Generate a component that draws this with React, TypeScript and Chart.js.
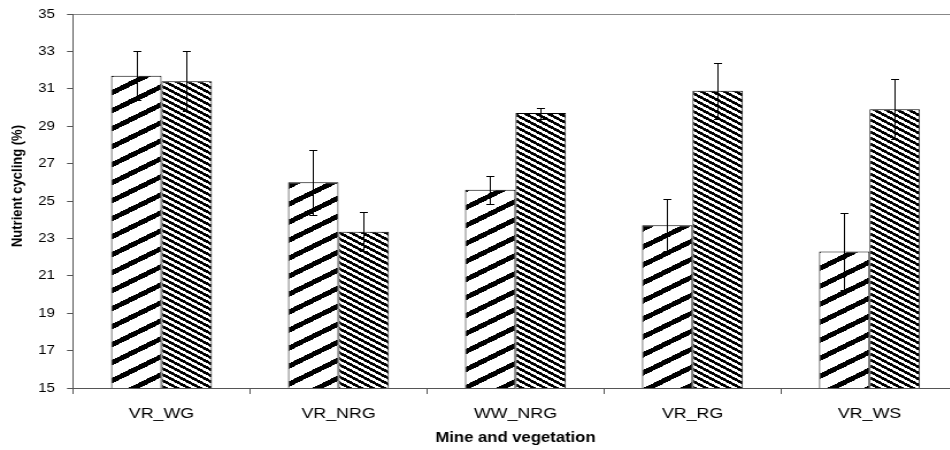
import { useEffect, useRef } from "react";
import { Chart, registerables } from "chart.js";

Chart.register(...registerables);

// Sites (mine + vegetation type)
const sites = ["VR_WG", "VR_NRG", "WW_NRG", "VR_RG", "VR_WS"];

// Nutrient cycling (%) means and their error margins, two groups per site
const groupAValues = [31.7, 26.0, 25.6, 23.7, 22.3];
const groupAErrors = [1.3, 1.75, 0.75, 1.4, 2.05];
const groupBValues = [31.4, 23.35, 29.7, 30.9, 29.9];
const groupBErrors = [1.6, 1.05, 0.3, 1.5, 1.6];

// Value axis range
const yMin = 15;
const yMax = 35;
const yStep = 2;

const yTitle = "Nutrient cycling (%)";
const xTitle = "Mine and vegetation";

const FONT = "'Liberation Sans', Arial, Helvetica, sans-serif";

// The drawing surface is rendered narrower and widened by CSS,
// giving the slightly stretched look of the original figure.
const STRETCH = 1.15;
const CSS_W = 960;
const CSS_H = 450;
const RENDER_W = Math.round(CSS_W / STRETCH);
const SX = CSS_W / RENDER_W;

// Builds a pixel hatch tile and turns it into a repeating fill pattern
function hatch(
  ctx: CanvasRenderingContext2D,
  w: number,
  h: number,
  ink: (x: number, y: number) => boolean
): CanvasPattern {
  const tile = document.createElement("canvas");
  tile.width = w;
  tile.height = h;
  const g = tile.getContext("2d")!;
  const img = g.createImageData(w, h);
  for (let y = 0; y < h; y++) {
    for (let x = 0; x < w; x++) {
      const i = (y * w + x) * 4;
      const v = ink(x, y) ? 0 : 255;
      img.data[i] = v;
      img.data[i + 1] = v;
      img.data[i + 2] = v;
      img.data[i + 3] = 255;
    }
  }
  g.putImageData(img, 0, 0);
  return ctx.createPattern(tile, "repeat")!;
}

const mod = (a: number, n: number) => ((a % n) + n) % n;

// Draws symmetric error bars with caps over every bar
const errorBars = {
  id: "errorBars",
  afterDatasetsDraw(chart: any) {
    const { ctx } = chart;
    const yScale = chart.scales.y;
    ctx.save();
    ctx.strokeStyle = "#000";
    ctx.lineWidth = 1;
    chart.data.datasets.forEach((ds: any, di: number) => {
      const meta = chart.getDatasetMeta(di);
      meta.data.forEach((bar: any, i: number) => {
        const v = ds.data[i];
        const e = ds.errors[i];
        const x = Math.round(bar.x) + 0.5;
        const yHi = Math.round(yScale.getPixelForValue(v + e)) + 0.5;
        const yLo = Math.round(yScale.getPixelForValue(v - e)) + 0.5;
        const cap = 4 / SX;
        ctx.beginPath();
        ctx.moveTo(x, yHi);
        ctx.lineTo(x, yLo);
        ctx.moveTo(x - cap, yHi);
        ctx.lineTo(x + cap, yHi);
        ctx.moveTo(x - cap, yLo);
        ctx.lineTo(x + cap, yLo);
        ctx.stroke();
      });
    });
    ctx.restore();
  },
};

// Vertical value-axis title, set a little above the plot's middle
const valueAxisTitle = {
  id: "valueAxisTitle",
  afterDraw(chart: any) {
    const { ctx, chartArea } = chart;
    ctx.save();
    ctx.fillStyle = "#000";
    ctx.font = `bold 13px ${FONT}`;
    ctx.textAlign = "center";
    ctx.textBaseline = "middle";
    ctx.translate(18 / SX, chartArea.top + (chartArea.bottom - chartArea.top) * 0.46);
    ctx.rotate(-Math.PI / 2);
    ctx.fillText(yTitle, 0, 0);
    ctx.restore();
  },
};

export default function App() {
  const canvasRef = useRef<HTMLCanvasElement | null>(null);

  useEffect(() => {
    const canvas = canvasRef.current!;
    const ctx = canvas.getContext("2d")!;

    // wide "/" stripes
    const patA = hatch(ctx, 32, 18, (x, y) => mod(y + (x * 18) / 32, 18) < 5.5);
    // dense "\" stripes
    const patB = hatch(ctx, 10, 6, (x, y) => mod(y - x * 0.6, 6) < 3);

    const chart = new Chart(canvas, {
      type: "bar",
      data: {
        labels: sites,
        datasets: [
          {
            label: "A",
            data: groupAValues,
            errors: groupAErrors,
            backgroundColor: patA,
            borderColor: "#000",
            borderWidth: 1,
            categoryPercentage: 0.57,
            barPercentage: 1,
          } as any,
          {
            label: "B",
            data: groupBValues,
            errors: groupBErrors,
            backgroundColor: patB,
            borderColor: "#000",
            borderWidth: 1,
            categoryPercentage: 0.57,
            barPercentage: 1,
          } as any,
        ],
      },
      options: {
        responsive: false,
        animation: false,
        devicePixelRatio: 1,
        layout: {
          padding: { top: 14, right: RENDER_W - 958 / SX, left: 0, bottom: 0 },
        },
        plugins: {
          legend: { display: false },
          tooltip: { enabled: false },
        },
        scales: {
          x: {
            border: { display: true, color: "#555", width: 1 },
            grid: {
              display: true,
              drawOnChartArea: false,
              drawTicks: true,
              tickLength: 6,
              tickColor: "#555",
              offset: true,
            },
            ticks: {
              color: "#000",
              font: { family: FONT, size: 15.5 },
              padding: 10,
            },
            title: {
              display: true,
              text: xTitle,
              color: "#000",
              font: { family: FONT, size: 14.5, weight: "bold" },
              padding: { top: 0, bottom: 3 },
            },
            afterFit(scale: any) {
              scale.height = CSS_H - 388;
              scale.paddingLeft = 0;
              scale.paddingRight = 0;
            },
          },
          y: {
            min: yMin,
            max: yMax,
            border: { display: true, color: "#555", width: 1 },
            grid: {
              display: true,
              drawOnChartArea: true,
              drawTicks: true,
              tickLength: 6 / SX,
              color: (c: any) =>
                c.tick && c.tick.value === yMax ? "#888" : "rgba(0,0,0,0)",
              tickColor: "#555",
            },
            ticks: {
              stepSize: yStep,
              color: "#000",
              font: { family: FONT, size: 13 },
              padding: 10.5,
            },
            afterFit(scale: any) {
              scale.width = 73 / SX;
              scale.paddingTop = 0;
              scale.paddingBottom = 0;
            },
          },
        },
      },
      plugins: [errorBars, valueAxisTitle],
    });

    return () => chart.destroy();
  }, []);

  return (
    <div
      style={{
        position: "fixed",
        left: 0,
        top: 0,
        width: 950,
        height: 450,
        overflow: "hidden",
        background: "#fff",
      }}
    >
      <canvas
        ref={canvasRef}
        width={RENDER_W}
        height={CSS_H}
        style={{ display: "block", width: `${CSS_W}px`, height: `${CSS_H}px` }}
      />
    </div>
  );
}
